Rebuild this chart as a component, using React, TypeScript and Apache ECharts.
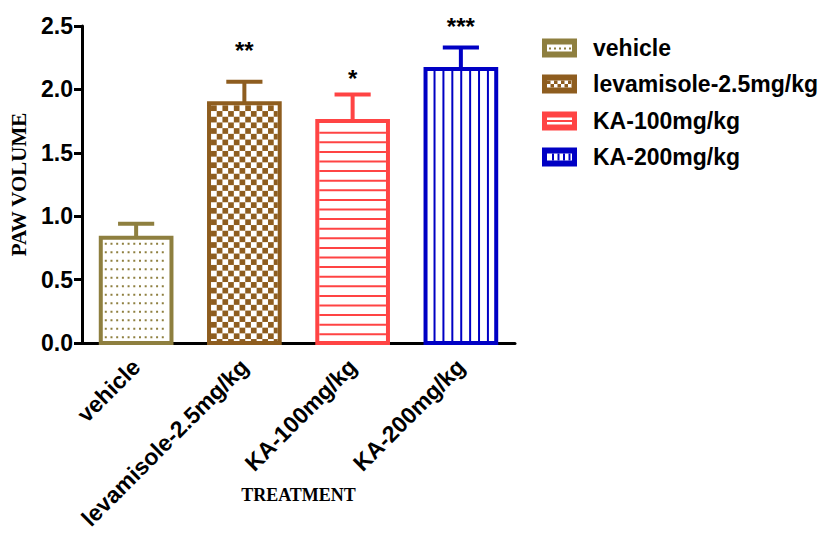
import React, { useEffect, useRef } from "react";
import * as echarts from "echarts";

const categories = ["vehicle", "levamisole-2.5mg/kg", "KA-100mg/kg", "KA-200mg/kg"];
const means = [0.83, 1.89, 1.75, 2.16];
const errTops = [0.94, 2.06, 1.96, 2.33];
const stars = ["", "**", "*", "***"];
const starLevels = [0, 2.33, 2.11, 2.52];
const colors = ["#8E7F3F", "#8E5D1F", "#FF4444", "#0000C4"];
const patterns = ["dots", "checker", "hlines", "vlines"];
const yTicks = { min: 0, max: 2.5, interval: 0.5 };

const SANS = "'Liberation Sans', Arial, sans-serif";
const SERIF = "'Liberation Serif', 'Times New Roman', serif";

function patternChildren(kind: string, color: string, l: number, t: number, r: number, b: number) {
  const out: any[] = [];
  if (kind === "dots") {
    for (let y = t + 4; y < b - 1; y += 8.5) {
      for (let x = l + 3; x < r - 1; x += 5.7) {
        out.push({ type: "rect", shape: { x: x - 1, y: y - 1, width: 2, height: 2 }, style: { fill: color } });
      }
    }
  } else if (kind === "checker") {
    const s = 5.7;
    let row = 0;
    for (let y = t; y < b; y += s, row++) {
      let col = 0;
      for (let x = l; x < r; x += s, col++) {
        if ((row + col) % 2 === 0) {
          out.push({
            type: "rect",
            shape: { x, y, width: Math.min(s, r - x), height: Math.min(s, b - y) },
            style: { fill: color },
          });
        }
      }
    }
  } else if (kind === "hlines") {
    for (let y = t + 9.6; y < b - 1; y += 9.6) {
      out.push({ type: "rect", shape: { x: l, y: y - 1, width: r - l, height: 2 }, style: { fill: color } });
    }
  } else if (kind === "vlines") {
    for (let x = l + 7; x < r - 1; x += 8.9) {
      out.push({ type: "rect", shape: { x: x - 1, y: t, width: 2, height: b - t }, style: { fill: color } });
    }
  }
  return out;
}

function legendSwatch(kind: string, color: string, x: number, y: number) {
  const w = 35, h = 19;
  const children: any[] = [
    { type: "rect", shape: { x, y, width: w, height: h }, style: { fill: color } },
    { type: "rect", shape: { x: x + 5, y: y + 6, width: w - 10, height: h - 12 }, style: { fill: "#fff" } },
  ];
  if (kind === "dots") {
    for (let xx = x + 7; xx < x + w - 6; xx += 5) {
      children.push({ type: "rect", shape: { x: xx, y: y + 9, width: 2, height: 2 }, style: { fill: color } });
    }
  } else if (kind === "checker") {
    for (let xx = x + 5, k = 0; xx < x + w - 5; xx += 3.5, k++) {
      if (k % 2 === 0) children.push({ type: "rect", shape: { x: xx, y: y + 6, width: 3.5, height: 3.5 }, style: { fill: color } });
      else children.push({ type: "rect", shape: { x: xx, y: y + 9.5, width: 3.5, height: 3.5 }, style: { fill: color } });
    }
  } else if (kind === "hlines") {
    children.push({ type: "rect", shape: { x: x + 5, y: y + 8.5, width: w - 10, height: 2 }, style: { fill: color } });
  } else if (kind === "vlines") {
    for (let xx = x + 10; xx < x + w - 6; xx += 5.5) {
      children.push({ type: "rect", shape: { x: xx, y: y + 6, width: 2, height: h - 12 }, style: { fill: color } });
    }
  }
  return { type: "group", children };
}

export default function App() {
  const ref = useRef<HTMLDivElement>(null);
  useEffect(() => {
    if (!ref.current) return;
    const chart = echarts.init(ref.current, null, { renderer: "svg" });
    const data = categories.map((_, i) => [i, means[i], errTops[i], starLevels[i]]);

    const legendEls: any[] = [];
    const rowY = [48, 84, 121, 157];
    categories.forEach((c, i) => {
      legendEls.push(legendSwatch(patterns[i], colors[i], 542, rowY[i] - 9.5));
      legendEls.push({
        type: "text",
        x: 593,
        y: rowY[i],
        style: { text: c, font: `bold 23px ${SANS}`, fill: "#000", verticalAlign: "middle", align: "left" },
      });
    });

    chart.setOption({
      animation: false,
      backgroundColor: "#fff",
      grid: { left: 82, right: 306, top: 26, bottom: 191, containLabel: false, outerBoundsMode: "none" },
      xAxis: {
        type: "category",
        data: categories,
        name: "TREATMENT",
        nameLocation: "middle",
        nameGap: 152,
        nameMoveOverlap: false,
        nameTextStyle: { fontFamily: SERIF, fontWeight: "bold", fontSize: 18, color: "#000", verticalAlign: "middle" },
        axisLine: { lineStyle: { color: "#000", width: 3 } },
        axisTick: { alignWithLabel: true, length: 9, lineStyle: { color: "#000", width: 3 } },
        axisLabel: { rotate: 45, margin: 20, fontFamily: SANS, fontWeight: "bold", fontSize: 23, color: "#000" },
      },
      yAxis: {
        type: "value",
        min: yTicks.min,
        max: yTicks.max,
        interval: yTicks.interval,
        name: "PAW VOLUME",
        nameLocation: "middle",
        nameGap: 53,
        nameMoveOverlap: false,
        nameTextStyle: { fontFamily: SERIF, fontWeight: "bold", fontSize: 21, color: "#000" },
        axisLine: { show: true, lineStyle: { color: "#000", width: 3 } },
        axisTick: { show: true, length: 8, lineStyle: { color: "#000", width: 3 } },
        splitLine: { show: false },
        axisLabel: {
          margin: 9,
          fontFamily: SANS,
          fontWeight: "bold",
          fontSize: 23,
          color: "#000",
          formatter: (v: number) => v.toFixed(1),
        },
      },
      series: [
        {
          type: "custom",
          encode: { x: 0, y: 1 },
          data,
          z: 1,
          renderItem: (params: any, api: any) => {
            const i = params.dataIndex;
            const idx = api.value(0);
            const v = api.value(1);
            const e = api.value(2);
            const s = api.value(3);
            const [cx, yTop] = api.coord([idx, v]);
            const [, y0] = api.coord([idx, 0]);
            const [, yErr] = api.coord([idx, e]);
            const band = api.size([1, 0])[0];
            const w = band * 0.69;
            const bw = 4;
            const color = colors[i];
            const l = cx - w / 2 + bw;
            const r = cx + w / 2 - bw;
            const t = yTop + bw / 2;
            const capHalf = band * 0.167;
            const children: any[] = [
              { type: "line", shape: { x1: cx, y1: yTop, x2: cx, y2: yErr }, style: { stroke: color, lineWidth: 4 } },
              { type: "line", shape: { x1: cx - capHalf, y1: yErr, x2: cx + capHalf, y2: yErr }, style: { stroke: color, lineWidth: 4 } },
              { type: "rect", shape: { x: l, y: t, width: r - l, height: y0 - t }, style: { fill: "#fff" } },
              ...patternChildren(patterns[i], color, l, t, r, y0),
              {
                type: "rect",
                shape: { x: cx - w / 2 + bw / 2, y: yTop, width: w - bw, height: y0 - yTop },
                style: { fill: "none", stroke: color, lineWidth: bw },
              },
            ];
            if (stars[i]) {
              const [, ys] = api.coord([idx, s]);
              children.push({
                type: "text",
                x: cx,
                y: ys + 3,
                style: { text: stars[i], font: `bold 24px ${SANS}`, fill: "#000", align: "center", verticalAlign: "middle" },
              });
            }
            return { type: "group", children };
          },
        },
      ],
      graphic: legendEls,
    });
    return () => chart.dispose();
  }, []);
  return <div ref={ref} style={{ position: "absolute", left: 0, top: 0, width: 821, height: 534 }} />;
}
